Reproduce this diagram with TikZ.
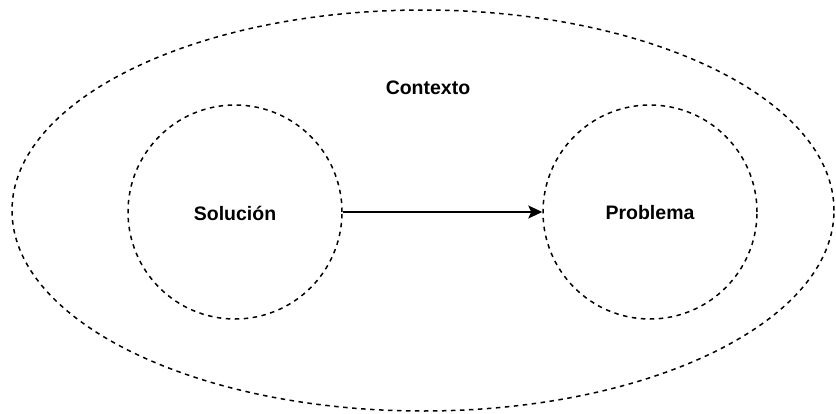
\documentclass[tikz,border=0pt]{standalone}
\usepackage{fontspec}
\setmainfont{Liberation Sans}
\usetikzlibrary{arrows.meta,shapes.geometric}
\begin{document}
\begin{tikzpicture}[x=1pt,y=-1pt,
  dashline/.style={draw=black, line width=1.5pt, dash pattern=on 4.5pt off 4.5pt},
  label/.style={font=\bfseries\fontsize{19.5}{23}\selectfont, inner sep=0pt},
  link/.style={draw=black, line width=1.5pt, -{Stealth[length=14pt,width=13pt,inset=3pt]}}]
  \useasboundingbox (0,0) rectangle (836,413);
  % outer context boundary
  \node[dashline, ellipse, minimum width=822pt, minimum height=401pt, inner sep=0pt] (ctx) at (423,210.5) {};
  \node[label] (ctxlabel) at (428,88) {Contexto};
  % solution and problem regions
  \node[dashline, circle, minimum size=214pt, inner sep=0pt] (sol) at (235,212) {};
  \node[dashline, circle, minimum size=214pt, inner sep=0pt] (prob) at (650,212) {};
  \node[label] (soltext) at (235,213) {Solución};
  \node[label] (probtext) at (650,213) {Problema};
  \draw[link] (sol.east) -- (prob.west);
\end{tikzpicture}
\end{document}
